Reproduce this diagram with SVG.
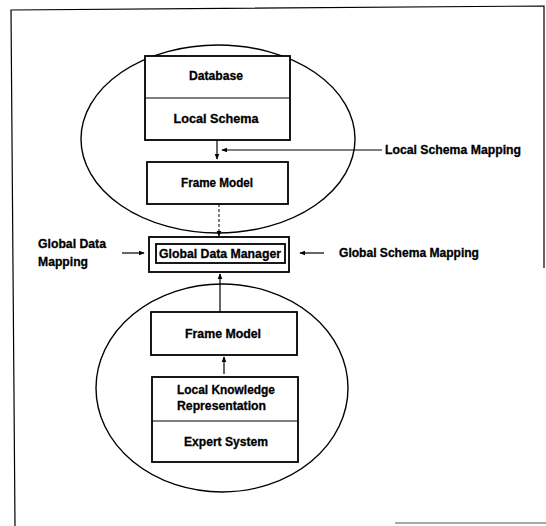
<svg xmlns="http://www.w3.org/2000/svg" width="546" height="526" viewBox="0 0 546 526">
  <style>
    .box { fill: #fff; stroke: #000; stroke-width: 1.8; }
    .ell { fill: none; stroke: #000; stroke-width: 1.4; }
    .ln { fill: none; stroke: #000; stroke-width: 1.2; }
    .dash { fill: none; stroke: #000; stroke-width: 1; stroke-dasharray: 3 2; }
    .t { font-family: "Liberation Sans", Arial, sans-serif; font-weight: bold; font-size: 12.5px; fill: #000; stroke: #000; stroke-width: 0.3; dominant-baseline: central; }
    .c { text-anchor: middle; }
  </style>
  <defs>
    <marker id="ah" viewBox="0 0 8 8" refX="7" refY="4" markerWidth="6" markerHeight="6" orient="auto" markerUnits="userSpaceOnUse">
      <path d="M0,0.8 L8,4 L0,7.2 Z" fill="#000"/>
    </marker>
  </defs>

  <!-- page frame -->
  <g id="frame">
    <polyline class="ln" points="15,526 11,10 544,6 544,268" stroke-width="1.6"/>
    <line x1="395" y1="523" x2="546" y2="523" stroke="#555" stroke-width="1.2"/>
  </g>

  <!-- database side -->
  <g id="db-cluster">
    <ellipse class="ell" cx="218" cy="139" rx="137" ry="94"/>
  </g>
  <g id="db-stack">
    <rect class="box" x="145" y="56" width="145" height="84"/>
    <line class="ln" x1="145" y1="98" x2="290" y2="98" stroke-width="1.4"/>
    <text class="t c" x="216" y="76" textLength="54" lengthAdjust="spacingAndGlyphs">Database</text>
    <text class="t c" x="216" y="119" textLength="85" lengthAdjust="spacingAndGlyphs">Local Schema</text>
  </g>
  <g id="db-frame-model">
    <rect class="box" x="147" y="162" width="141" height="42"/>
    <text class="t c" x="217" y="183" textLength="72" lengthAdjust="spacingAndGlyphs">Frame Model</text>
  </g>

  <!-- global data manager -->
  <g id="gdm">
    <rect class="box" x="149" y="237" width="140" height="35"/>
    <rect class="box" x="156" y="244" width="129" height="19" stroke-width="1.5"/>
    <text class="t c" x="220" y="253.5" textLength="122" lengthAdjust="spacingAndGlyphs">Global Data Manager</text>
  </g>

  <!-- expert system side -->
  <g id="es-cluster">
    <ellipse class="ell" cx="222" cy="388" rx="126" ry="104"/>
  </g>
  <g id="es-frame-model">
    <rect class="box" x="151" y="312" width="146" height="43"/>
    <text class="t c" x="223" y="334" textLength="76" lengthAdjust="spacingAndGlyphs">Frame Model</text>
  </g>
  <g id="es-stack">
    <rect class="box" x="152" y="377" width="146" height="85"/>
    <line class="ln" x1="152" y1="421" x2="298" y2="421" stroke-width="1.4"/>
    <text class="t" x="177" y="390" textLength="98" lengthAdjust="spacingAndGlyphs">Local Knowledge</text>
    <text class="t" x="177" y="406" textLength="89" lengthAdjust="spacingAndGlyphs">Representation</text>
    <text class="t c" x="226" y="442" textLength="84" lengthAdjust="spacingAndGlyphs">Expert System</text>
  </g>

  <!-- side labels -->
  <g id="lbl-local-schema-mapping">
    <text class="t" x="385" y="150" textLength="136" lengthAdjust="spacingAndGlyphs">Local Schema Mapping</text>
  </g>
  <g id="lbl-global-data-mapping">
    <text class="t" x="38" y="244" textLength="68" lengthAdjust="spacingAndGlyphs">Global Data</text>
    <text class="t" x="38" y="262" textLength="50" lengthAdjust="spacingAndGlyphs">Mapping</text>
  </g>
  <g id="lbl-global-schema-mapping">
    <text class="t" x="339" y="253" textLength="140" lengthAdjust="spacingAndGlyphs">Global Schema Mapping</text>
  </g>

  <!-- connectors -->
  <g id="connectors">
    <line class="ln" x1="217" y1="140" x2="217" y2="159" marker-end="url(#ah)"/>
    <line class="ln" x1="382" y1="150" x2="222" y2="150" marker-end="url(#ah)"/>
    <line class="dash" x1="219" y1="204" x2="219" y2="236" marker-end="url(#ah)"/>
    <line class="ln" x1="122" y1="253" x2="144" y2="253" marker-end="url(#ah)"/>
    <line class="ln" x1="324" y1="253" x2="300" y2="253" marker-end="url(#ah)"/>
    <line class="ln" x1="220" y1="312" x2="220" y2="274" marker-end="url(#ah)"/>
    <line class="ln" x1="224" y1="374" x2="224" y2="357" marker-end="url(#ah)"/>
  </g>
</svg>
